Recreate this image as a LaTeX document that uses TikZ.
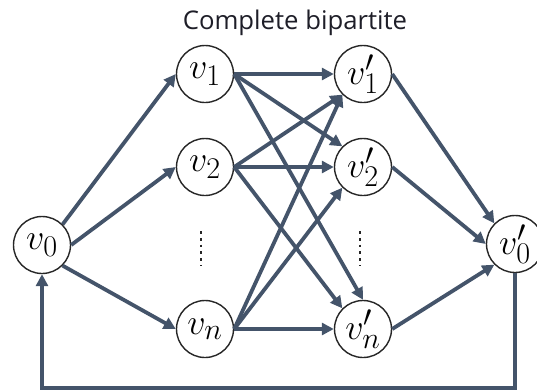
\documentclass[tikz,border=0pt]{standalone}
\usepackage{graphicx}
\usepackage{fontspec}
\newfontfamily\titlefont{Open Sans}
\usetikzlibrary{arrows.meta}
\definecolor{edgecol}{HTML}{44546A}
\definecolor{txtcol}{HTML}{1E1E28}
\newcommand{\vlab}[1]{\scalebox{1.45}{\fontsize{24.88}{28}\selectfont$#1$}}
\tikzset{
  vnode/.style={circle, draw=black!85, line width=1.4pt, fill=white, minimum size=57pt, inner sep=0pt},
  edge/.style={draw=edgecol, line width=3.8pt, -{Triangle[length=12pt,width=12pt]}},
  dotcol/.style={draw=black!85, line width=2.8pt, dash pattern=on 2.8pt off 4pt}
}
\begin{document}
\begin{tikzpicture}[x=1pt,y=-1pt]
\useasboundingbox (0,0) rectangle (537,391);
\node[font=\titlefont\fontsize{25.7}{28}\selectfont, text=txtcol, anchor=base] (title) at (295,29) {Complete bipartite};
\node[vnode] (v0) at (42,245) {\vlab{v_0}};
\node[vnode] (v1) at (205,74) {\vlab{v_1}};
\node[vnode] (v2) at (205,167) {\vlab{v_2}};
\node[vnode] (vn) at (205,329) {\vlab{v_n}};
\node[vnode] (w1) at (363,74) {\vlab{v_1'}};
\node[vnode] (w2) at (363,167) {\vlab{v_2'}};
\node[vnode] (wn) at (363,329) {\vlab{v_n'}};
\node[vnode] (w0) at (515,244) {\vlab{v_0'}};
\coordinate (d1a) at (201,231);
\coordinate (d1b) at (201,266);
\coordinate (d2a) at (360,231);
\coordinate (d2b) at (360,266);
\draw[dotcol] (d1a) -- (d1b);
\draw[dotcol] (d2a) -- (d2b);
\draw[edge] (v0.north east) -- (v1.west);
\draw[edge] (v0.east) -- (v2.west);
\draw[edge] (v0.south east) -- (vn.west);
\draw[edge] (v1.east) -- (w1.west);
\draw[edge] (v1.east) -- (w2.north west);
\draw[edge] (v1.east) -- (wn.north);
\draw[edge] (v2.east) -- (w1.south west);
\draw[edge] (v2.east) -- (w2.west);
\draw[edge] (v2.east) -- (wn.north west);
\draw[edge] (vn.east) -- (w1.south west);
\draw[edge] (vn.east) -- (w2.south west);
\draw[edge] (vn.east) -- (wn.west);
\draw[edge] (w1.east) -- (w0.north west);
\draw[edge] (w2.east) -- (w0.west);
\draw[edge] (wn.east) -- (w0.south west);
\coordinate (lr) at (515,388);
\coordinate (ll) at (42,388);
\draw[edge] (w0.south) -- (lr) -- (ll) -- (v0.south);
\end{tikzpicture}
\end{document}
